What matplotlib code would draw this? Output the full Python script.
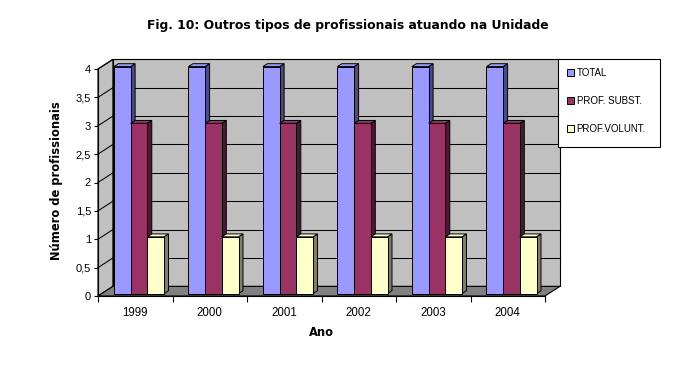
"""Recreate the 3D-style Excel bar chart: Outros tipos de profissionais."""

import matplotlib.pyplot as plt
from matplotlib.patches import Polygon, Rectangle

years = ["1999", "2000", "2001", "2002", "2003", "2004"]
series_names = ["TOTAL", "PROF. SUBST.", "PROF.VOLUNT."]
total = [4, 4, 4, 4, 4, 4]
prof_subst = [3, 3, 3, 3, 3, 3]
prof_volunt = [1, 1, 1, 1, 1, 1]
ytick_values = [0, 0.5, 1, 1.5, 2, 2.5, 3, 3.5, 4]
ytick_labels = ["0", "0,5", "1", "1,5", "2", "2,5", "3", "3,5", "4"]

front_colors = ["#9999FF", "#993366", "#FFFFCC"]
side_colors = ["#4C4C80", "#4C1933", "#80806A"]

# depth of the fake 3D box in data units, and where the bars sit inside it
DX, DY = 0.2, 0.17
Z0, Z1 = 0.25, 0.55
BAR_W = 0.224


def create_plot() -> None:
    fig = plt.figure(figsize=(6.97, 3.68), dpi=100)
    fig.patch.set_facecolor("white")
    W, H = 697, 368
    ax = fig.add_axes([98 / W, (H - 296) / H, (545 - 98) / W, (296 - 69) / H])
    ax.patch.set_visible(False)
    n = len(years)
    top = max(ytick_values)
    ax.set_xlim(0, n)
    ax.set_ylim(0, top)

    # walls and floor
    back = Polygon([(DX, DY), (n + DX, DY), (n + DX, top + DY), (DX, top + DY)],
                   closed=True, fc="#C0C0C0", ec="black", lw=0.8, clip_on=False, zorder=0)
    side = Polygon([(0, 0), (DX, DY), (DX, top + DY), (0, top)],
                   closed=True, fc="#C0C0C0", ec="black", lw=0.8, clip_on=False, zorder=0)
    floor = Polygon([(0, 0), (n, 0), (n + DX, DY), (DX, DY)],
                    closed=True, fc="#808080", ec="black", lw=0.8, clip_on=False, zorder=0.5)
    for p in (back, side, floor):
        ax.add_patch(p)
    for v in ytick_values[1:]:
        ax.plot([DX, n + DX], [v + DY, v + DY], color="black", lw=0.75, clip_on=False, zorder=0.2)
        ax.plot([0, DX], [v, v + DY], color="black", lw=0.75, clip_on=False, zorder=0.2)

    # bars: side, top, then front face
    data = [total, prof_subst, prof_volunt]
    d = Z1 - Z0
    base = Z0 * DY
    z = 1
    for i in range(n):
        for j, vals in enumerate(data):
            v = vals[i]
            x0 = i + 0.5 + (j - 1.5) * BAR_W + Z0 * DX
            x1 = x0 + BAR_W
            ax.add_patch(Polygon([(x1, base), (x1 + d * DX, base + d * DY),
                                  (x1 + d * DX, base + v + d * DY), (x1, base + v)],
                                 closed=True, fc=side_colors[j], ec="black", lw=0.7,
                                 clip_on=False, zorder=z))
            ax.add_patch(Polygon([(x0, base + v), (x1, base + v),
                                  (x1 + d * DX, base + v + d * DY), (x0 + d * DX, base + v + d * DY)],
                                 closed=True, fc=front_colors[j], ec="black", lw=0.7,
                                 clip_on=False, zorder=z))
            ax.bar(x0, v, width=BAR_W, bottom=base, align="edge", color=front_colors[j],
                   edgecolor="black", lw=0.7, zorder=z + 0.5, clip_on=False,
                   label=series_names[j] if i == 0 else None)
            z += 1

    # axes
    for s in ("top", "right"):
        ax.spines[s].set_visible(False)
    for s in ("left", "bottom"):
        ax.spines[s].set_linewidth(0.8)
        ax.spines[s].set_zorder(0.6)
    ax.set_yticks(ytick_values)
    ax.set_yticklabels(ytick_labels, family="Liberation Sans", fontsize=8)
    ax.set_xticks(range(n + 1))
    ax.set_xticklabels([])
    ax.set_xticks([i + 0.5 for i in range(n)], minor=True)
    ax.set_xticklabels(years, minor=True, family="Liberation Sans", fontsize=8.3)
    ax.tick_params(axis="y", direction="out", length=3, width=0.8, pad=2)
    ax.tick_params(axis="x", which="major", direction="out", length=4, width=0.8)
    ax.tick_params(axis="x", which="minor", length=0, pad=8)

    # texts
    fig.text(348 / W, 1 - 25 / H, "Fig. 10: Outros tipos de profissionais atuando na Unidade",
             ha="center", va="center", fontsize=8.9, fontweight="bold", family="DejaVu Sans")
    fig.text(57 / W, 1 - 181 / H, "Número de profissionais", rotation=90,
             ha="center", va="center", fontsize=8.3, fontweight="bold", family="DejaVu Sans")
    fig.text(321 / W, 1 - 333 / H, "Ano", ha="center", va="center",
             fontsize=8.3, fontweight="bold", family="DejaVu Sans")

    # legend in its own box
    fig.patches.append(Rectangle((558 / W, 1 - 147 / H), (660 - 558) / W, (147 - 59) / H,
                                 transform=fig.transFigure, fc="white", ec="black", lw=0.8))
    fig.legend(loc="upper left", bbox_to_anchor=(567 / W, 1 - 68 / H), frameon=False,
               prop={"family": "Liberation Sans", "size": 7}, handlelength=0.7,
               handleheight=0.7, handletextpad=0.3, labelspacing=1.83, borderpad=0,
               borderaxespad=0)

    fig.savefig("out.png", dpi=100)


if __name__ == "__main__":
    create_plot()
